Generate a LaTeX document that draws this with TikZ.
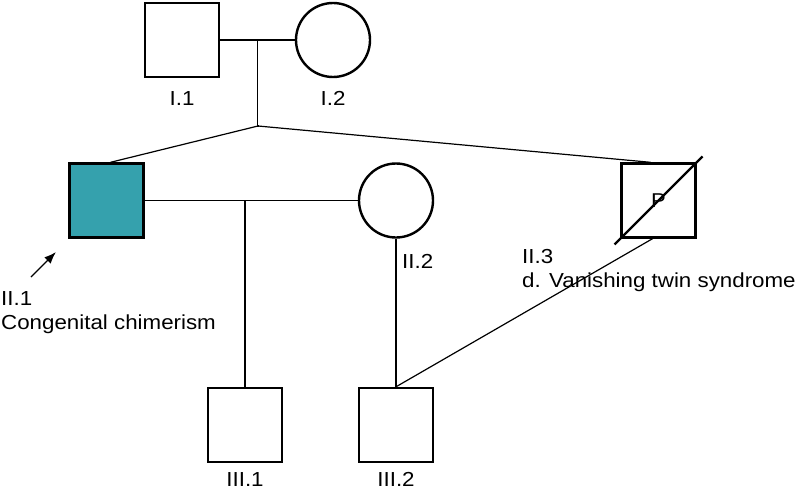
\documentclass[tikz,border=0pt]{standalone}
\usepackage{fontspec}
\setmainfont{Liberation Sans}[FakeStretch=1.1]
\usetikzlibrary{arrows.meta,positioning,calc}
\definecolor{chimera}{RGB}{53,161,173}

\begin{document}
\begin{tikzpicture}[
  x=1pt, y=-1pt,
  >={Latex[length=12pt,width=9pt]},
  font=\fontsize{20.3}{24}\selectfont,
  % individuals
  male/.style = {
    draw, rectangle, line width=2.4pt,
    minimum size=74pt, inner sep=0pt
  },
  female/.style = {
    draw, circle, line width=2.4pt,
    minimum size=74pt, inner sep=0pt
  },
  link/.style = {line width=1.2pt},
  lbl/.style = {inner sep=0pt, align=left}
]

\useasboundingbox (0,0) rectangle (799,492);

% ---- generation I ----
\node[male]   (I1) at (182,40) {};
\node[female] (I2) at (333,40) {};

% ---- generation II ----
\node[male, fill=chimera] (II1) at (106.5,200.5) {};
\node[female] (II2) at (396,200.5) {};
\node[male, font=\fontsize{20}{20}\selectfont] (II3) at (658.5,200.5) {P};

% ---- generation III ----
\node[male] (III1) at (245,425) {};
\node[male] (III2) at (396,425) {};

% ---- labels ----
\node[lbl, below=13pt of I1] (lI1) {I.1};
\node[lbl, below=13pt of I2] (lI2) {I.2};
\node[lbl, below=9pt of III1] (lIII1) {III.1};
\node[lbl, below=9pt of III2] (lIII2) {III.2};
\node[lbl, anchor=west] (lII2) at (402,261) {II.2};
\node[lbl, anchor=north west] (lII1) at (1,291) {II.1\\Congenital chimerism};
\node[lbl, anchor=north west] (lII3) at (522,249) {II.3\\d. Vanishing twin syndrome};

% ---- helper points ----
\coordinate (m1) at ($(I1.east)!0.5!(I2.west)$);
\coordinate (twins) at (258,126);
\coordinate (m2) at (III1 |- II1.east);
\coordinate (tip) at (56,252);
\coordinate (tail) at (31,277);

% ---- lines ----
\draw[link] (I1.east) -- (I2.west);
\draw[link] (m1) -- (m1 |- twins) -- (twins);
\draw[link] (twins) -- ([xshift=4pt]II1.north);
\draw[link] (twins) -- ([xshift=-8pt]II3.north);

\draw[link] (II1.east) -- (II2.west);
\draw[link] (m2) -- (III1.north);
\draw[link] (II2.south) -- (III2.north);
\draw[link] (III2.north) -- ([xshift=-6pt]II3.south);

% deceased
\draw[line width=2.4pt] ($(II3.center)+(-44,44)$) -- ($(II3.center)+(44,-44)$);

% proband
\draw[->, line width=1.3pt] (tail) -- (tip);

\end{tikzpicture}
\end{document}
